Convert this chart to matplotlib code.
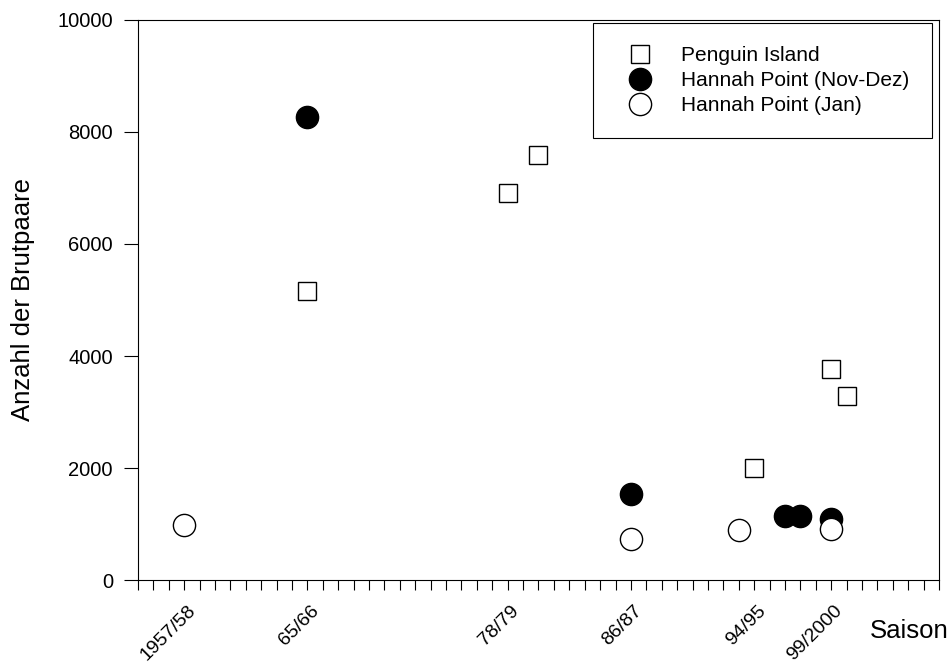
import matplotlib
matplotlib.use("Agg")
import matplotlib.pyplot as plt
from matplotlib.transforms import ScaledTranslation

plt.rcParams['font.family'] = ['Liberation Sans', 'DejaVu Sans']

# Breeding-pair counts per season (season given by its starting year)
penguin_years = [1965, 1978, 1980, 1994, 1999, 2000]
penguin_pairs = [5160, 6915, 7590, 1995, 3770, 3290]

hannah_novdez_years = [1965, 1986, 1996, 1997, 1999]
hannah_novdez_pairs = [8265, 1535, 1150, 1150, 1085]

hannah_jan_years = [1957, 1986, 1993, 1999]
hannah_jan_pairs = [990, 735, 895, 905]

season_label_years = [1957, 1965, 1978, 1986, 1994, 1999]
season_labels = ["1957/58", "65/66", "78/79", "86/87", "94/95", "99/2000"]

fig = plt.figure(figsize=(9.53, 6.66), dpi=100)
ax = fig.add_axes([0.1448, 0.1291, 0.8405, 0.8409])

ax.plot(penguin_years, penguin_pairs, linestyle='none', marker='s', ms=13.5,
        mfc='white', mec='black', mew=1.0, label='Penguin Island', zorder=3)
ax.plot(hannah_novdez_years, hannah_novdez_pairs, linestyle='none', marker='o', ms=16,
        mfc='black', mec='black', mew=1.0, label='Hannah Point (Nov-Dez)', zorder=3)
ax.plot(hannah_jan_years, hannah_jan_pairs, linestyle='none', marker='o', ms=16,
        mfc='white', mec='black', mew=1.0, label='Hannah Point (Jan)', zorder=4)

ax.set_xlim(1954, 2006)
ax.set_ylim(0, 10000)

years = list(range(1954, 2007))
ax.set_xticks(years)
ax.set_yticks(range(0, 10001, 2000))
ax.tick_params(axis='x', direction='out', length=7, width=0.8, pad=9, labelsize=14)
ax.tick_params(axis='y', direction='out', length=10, width=0.8, pad=8, labelsize=14.5)

ax.set_xticklabels([season_labels[season_label_years.index(y)] if y in season_label_years else ''
                    for y in years], rotation=45, ha='right', va='top')
shift = ScaledTranslation(0.15, 0, fig.dpi_scale_trans)
for lbl in ax.get_xticklabels():
    lbl.set_transform(lbl.get_transform() + shift)

for sp in ax.spines.values():
    sp.set_linewidth(0.8)

ax.set_ylabel('Anzahl der Brutpaare', fontsize=18.5)
ax.yaxis.set_label_coords(-0.129, 0.5)
fig.text(0.913, 0.0526, 'Saison', fontsize=18.5, ha='left', va='center')

leg = ax.legend(loc='upper right', bbox_to_anchor=(0.9913, 0.9946), fontsize=15,
                frameon=True, fancybox=False, edgecolor='black', framealpha=1,
                borderpad=1.1, labelspacing=0.3, handlelength=2.25, handletextpad=0.85,
                borderaxespad=0.0)
leg.get_frame().set_linewidth(0.8)

fig.savefig('out.png', dpi=100)
